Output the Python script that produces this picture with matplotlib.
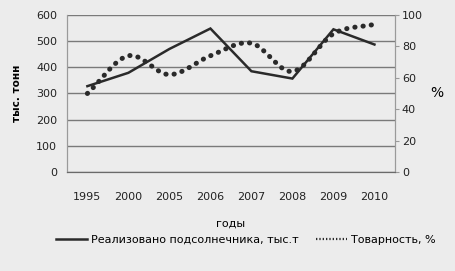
import numpy as np
import matplotlib
matplotlib.use("Agg")
from matplotlib import pyplot as plt

plt.rcParams['font.family'] = ['Liberation Sans Narrow', 'DejaVu Sans']

years = ['1995', '2000', '2005', '2006', '2007', '2008', '2009', '2010']
sold = [328, 379, 470, 548, 385, 357, 545, 487]      # тыс. т
share = [50, 74, 62, 74, 82, 64, 88, 94]             # %
sold_label = 'Реализовано подсолнечника, тыс.т'
share_label = 'Товарность, %'


def smooth(xs, ys, n=20):
    # catmull-rom, like excel's "smoothed line"
    xs = np.asarray(xs, float)
    ys = np.asarray(ys, float)
    px = np.concatenate([[2 * xs[0] - xs[1]], xs, [2 * xs[-1] - xs[-2]]])
    py = np.concatenate([[2 * ys[0] - ys[1]], ys, [2 * ys[-1] - ys[-2]]])
    ox, oy = [], []
    for i in range(1, len(px) - 2):
        t = np.linspace(0, 1, n, endpoint=False)
        for p, o in ((px, ox), (py, oy)):
            p0, p1, p2, p3 = p[i - 1], p[i], p[i + 1], p[i + 2]
            o.extend(0.5 * (2 * p1 + (-p0 + p2) * t
                            + (2 * p0 - 5 * p1 + 4 * p2 - p3) * t ** 2
                            + (-p0 + 3 * p1 - 3 * p2 + p3) * t ** 3))
    ox.append(xs[-1])
    oy.append(ys[-1])
    return ox, oy


bg = '#ececec'
fig = plt.figure(figsize=(4.55, 2.71), dpi=100, facecolor=bg)
ax = fig.add_axes([0.147, 0.365, 0.721, 0.58], facecolor=bg)
ax2 = ax.twinx()

x = np.arange(len(years))
ax.plot(x, sold, color='#2a2a2a', lw=1.8, solid_joinstyle='miter', zorder=3)
sx, sy = smooth(x, share)
ax2.plot(sx, sy, color='#2a2a2a', lw=3.6, linestyle=(0, (0.05, 1.6)),
         dash_capstyle='round', zorder=3)

ax.set_xlim(-0.5, len(years) - 0.5)
ax.set_ylim(0, 600)
ax2.set_ylim(0, 100)
ax.set_yticks(range(0, 601, 100))
ax2.set_yticks(range(0, 101, 20))
ax.set_xticks(x)
ax.set_xticklabels(years)

ax.grid(axis='y', color='#7a7a7a', lw=1.0)
ax.set_axisbelow(True)
for a in (ax, ax2):
    a.spines['top'].set_visible(False)
    a.spines['left'].set_color('#9a9a9a')
    a.spines['right'].set_color('#9a9a9a')
    a.spines['bottom'].set_color('#6a6a6a')
    a.tick_params(labelsize=8, colors='#222222', pad=4)
ax.tick_params(axis='y', length=0, pad=7)
ax.tick_params(axis='x', length=0, pad=14)
ax2.tick_params(axis='y', length=3, color='#9a9a9a', pad=2)

ax.set_ylabel('тыс. тонн', fontsize=7.5, fontweight='bold', labelpad=10)
ax2.set_ylabel('%', fontsize=10, rotation=0, labelpad=10, va='center')
ax.set_xlabel('годы', fontsize=8, labelpad=12)

h1, = ax.plot([], [], color='#2a2a2a', lw=1.8)
h2, = ax.plot([], [], color='#2a2a2a', lw=1.6, linestyle=(0, (0.6, 0.9)))
fig.legend([h1, h2], [sold_label, share_label], loc='lower center',
           bbox_to_anchor=(0.54, 0.06), ncol=2, frameon=False, fontsize=8,
           handlelength=2.8, columnspacing=1.6, handletextpad=0.3)

fig.savefig('out.png', dpi=100, facecolor=bg)
